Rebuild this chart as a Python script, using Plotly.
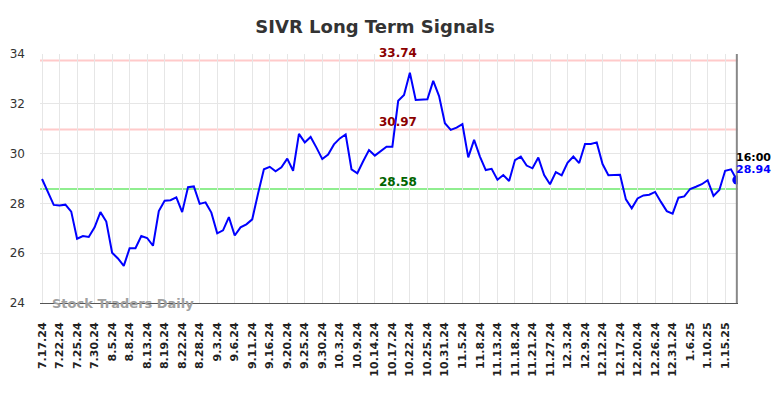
import plotly.graph_objects as go

title = "SIVR Long Term Signals"

tick_labels = ["7.17.24", "7.22.24", "7.25.24", "7.30.24", "8.5.24", "8.8.24", "8.13.24",
               "8.19.24", "8.22.24", "8.28.24", "9.3.24", "9.6.24", "9.11.24", "9.16.24",
               "9.20.24", "9.25.24", "9.30.24", "10.3.24", "10.9.24", "10.14.24", "10.17.24",
               "10.22.24", "10.25.24", "10.31.24", "11.5.24", "11.8.24", "11.13.24", "11.18.24",
               "11.21.24", "11.27.24", "12.3.24", "12.9.24", "12.12.24", "12.17.24", "12.20.24",
               "12.26.24", "12.31.24", "1.6.25", "1.10.25", "1.15.25"]

prices = [28.98, 28.47, 27.94, 27.92, 27.95, 27.67, 26.58, 26.69, 26.65, 27.04,
          27.65, 27.27, 26.02, 25.79, 25.49, 26.20, 26.20, 26.69, 26.61, 26.30,
          27.69, 28.11, 28.13, 28.24, 27.65, 28.65, 28.68, 27.98, 28.04, 27.63,
          26.80, 26.92, 27.45, 26.71, 27.04, 27.16, 27.36, 28.40, 29.37, 29.47,
          29.29, 29.45, 29.80, 29.31, 30.79, 30.45, 30.67, 30.24, 29.78, 29.96,
          30.37, 30.61, 30.77, 29.37, 29.21, 29.69, 30.14, 29.92, 30.10, 30.28,
          30.28, 32.12, 32.35, 33.25, 32.15, 32.15, 32.18, 32.92, 32.31, 31.22,
          30.95, 31.04, 31.18, 29.85, 30.55, 29.88, 29.34, 29.39, 28.95, 29.14,
          28.90, 29.74, 29.88, 29.52, 29.41, 29.84, 29.14, 28.77, 29.26, 29.13,
          29.63, 29.88, 29.62, 30.39, 30.39, 30.45, 29.58, 29.13, 29.15, 29.15,
          28.16, 27.80, 28.20, 28.32, 28.35, 28.46, 28.06, 27.69, 27.59, 28.23,
          28.28, 28.58, 28.67, 28.77, 28.93, 28.30, 28.54, 29.31, 29.37, 28.94]

resistance_levels = [33.74, 30.97]
support_levels = [28.58]
last_time = "16:00"
watermark = "Stock Traders Daily"

x = list(range(len(prices)))
tick_step = 3
tickvals = [i * tick_step for i in range(len(tick_labels))]
last_i = x[-1]
label_x = 61

fig = go.Figure()

for lvl in resistance_levels:
    fig.add_shape(type="line", xref="paper", x0=0, x1=1, y0=lvl, y1=lvl,
                  line=dict(color="#ffcaca", width=2), layer="below")
    fig.add_annotation(x=label_x, y=lvl, text=f"<b>{lvl:.2f}</b>", showarrow=False,
                       yanchor="bottom", yshift=-2, font=dict(family="DejaVu Sans", size=12, color="#8b0000"))
for lvl in support_levels:
    fig.add_shape(type="line", xref="paper", x0=0, x1=1, y0=lvl, y1=lvl,
                  line=dict(color="#90ee90", width=2), layer="below")
    fig.add_annotation(x=label_x, y=lvl, text=f"<b>{lvl:.2f}</b>", showarrow=False,
                       yanchor="bottom", yshift=-2, font=dict(family="DejaVu Sans", size=12, color="#006400"))

fig.add_trace(go.Scatter(x=x, y=prices, mode="lines", line=dict(color="#0000ff", width=2),
                         hoverinfo="skip", showlegend=False))
fig.add_trace(go.Scatter(x=[last_i], y=[prices[-1]], mode="markers",
                         marker=dict(color="#0000ff", size=9), showlegend=False))

fig.add_shape(type="line", x0=last_i, x1=last_i, yref="paper", y0=0, y1=1,
              line=dict(color="#888888", width=2))

fig.add_annotation(x=last_i, y=prices[-1], text=f"<b>{last_time}</b>", showarrow=False,
                   xanchor="left", yanchor="bottom", xshift=-3, yshift=14,
                   font=dict(family="DejaVu Sans", size=11, color="#000000"))
fig.add_annotation(x=last_i, y=prices[-1], text=f"<b>{prices[-1]:.2f}</b>", showarrow=False,
                   xanchor="left", yanchor="bottom", xshift=-3, yshift=2,
                   font=dict(family="DejaVu Sans", size=11, color="#0000ff"))

fig.add_annotation(xref="paper", yref="y", x=0.014, y=24, text=f"<b>{watermark}</b>",
                   showarrow=False, xanchor="left", yanchor="middle",
                   font=dict(family="DejaVu Sans", size=13, color="#a0a0a0"))

fig.update_layout(
    width=776, height=390,
    margin=dict(l=32, r=46, t=46, b=95, autoexpand=False),
    paper_bgcolor="white", plot_bgcolor="white",
    title=dict(text=f"<b>{title}</b>", x=0.473, xanchor="center", y=0.953, yanchor="middle",
               font=dict(family="DejaVu Sans", size=18, color="#333333")),
    xaxis=dict(range=[-0.35, 119.2], tickmode="array", tickvals=tickvals,
               ticktext=[f"<b>{t}</b>" for t in tick_labels], tickangle=-90,
               tickfont=dict(family="DejaVu Sans", size=11, color="#222222"),
               showgrid=True, gridcolor="#e6e6e6", gridwidth=1,
               showline=True, linecolor="#555555", linewidth=1, automargin=False,
               ticks="", ticklabelstandoff=14, zeroline=False, fixedrange=True),
    yaxis=dict(range=[24, 34], dtick=2, tickfont=dict(family="DejaVu Sans", size=12, color="#333333"),
               showgrid=True, gridcolor="#e6e6e6", gridwidth=1, zeroline=False, automargin=False,
               ticks="", ticklabelstandoff=14, fixedrange=True),
    showlegend=False,
)

fig.write_html("out.html")
